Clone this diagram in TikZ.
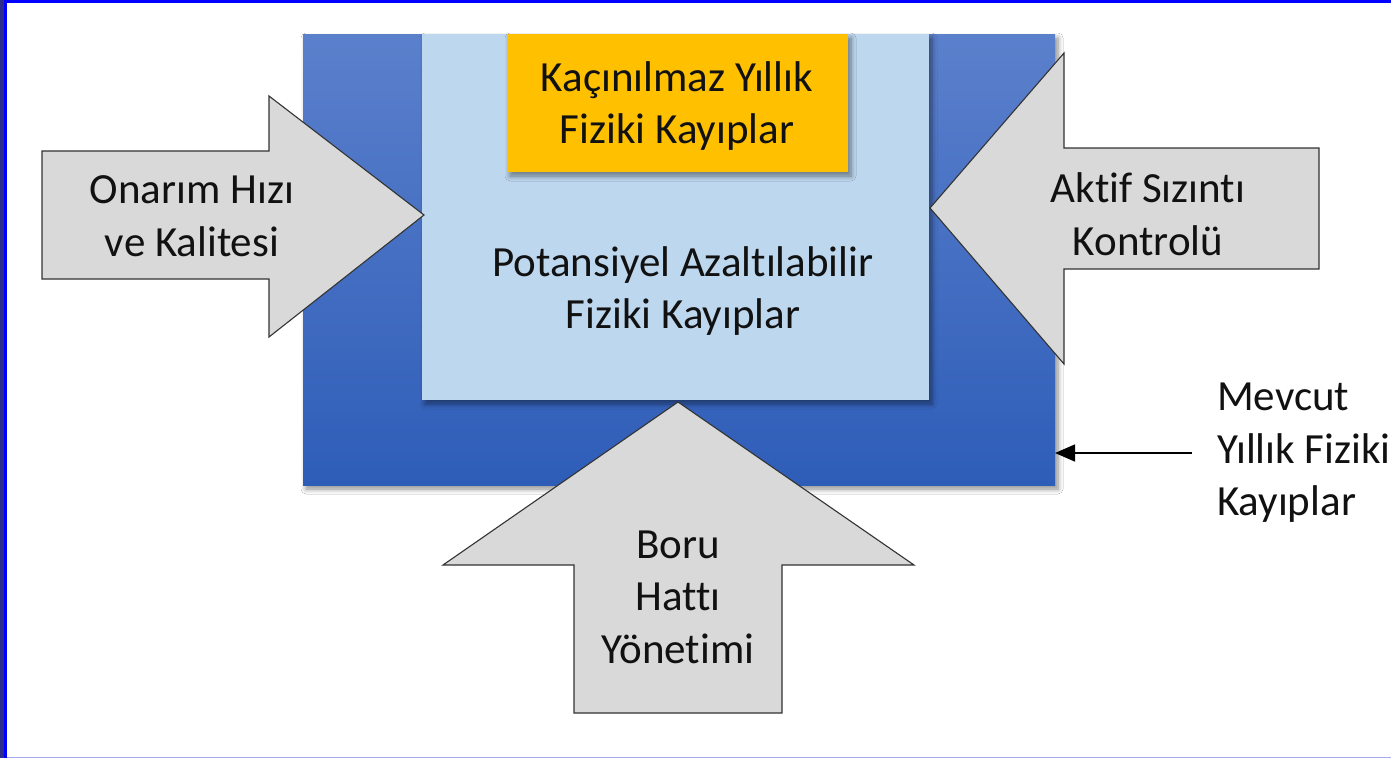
\documentclass[tikz,border=0pt]{standalone}
\usepackage{fontspec}
\setmainfont{Carlito}[Ligatures=NoCommon]
\usetikzlibrary{shadows.blur,arrows.meta}
\definecolor{outerTop}{HTML}{5B80CC}
\definecolor{outerBot}{HTML}{2E5DB8}
\definecolor{innerBlue}{HTML}{BDD7EE}
\definecolor{orangeBox}{HTML}{FFC000}
\definecolor{arrowGray}{HTML}{D9D9D9}
\definecolor{edgeGray}{HTML}{333333}
\definecolor{frameDark}{HTML}{2B2B8C}
\definecolor{frameBlue}{HTML}{0000FF}
\definecolor{frameLight}{HTML}{A8A8F0}
\definecolor{txt}{HTML}{111111}
\tikzset{
  softshadow/.style={blur shadow={shadow xshift=3pt, shadow yshift=-4pt, shadow blur steps=6, shadow blur radius=5pt, shadow opacity=45}},
  bigarrow/.style={fill=arrowGray, draw=edgeGray, line width=1.1pt, line join=miter},
  lbl/.style={text=txt, font=\fontsize{43}{52.5}\selectfont, align=center, inner sep=0pt},
}
\begin{document}
\begin{tikzpicture}[x=1pt,y=-1pt]
\useasboundingbox (0,0) rectangle (1391,758);
\fill[white] (0,0) rectangle (1391,758);
% frame
\fill[frameDark] (0,0) rectangle (4,758);
\fill[frameBlue] (4,0) rectangle (7,758);
\fill[frameBlue] (4,0) rectangle (1391,2.5);
\fill[frameLight] (7,756.5) rectangle (1391,758);
% outer blue block
\path[softshadow, top color=outerTop, bottom color=outerBot] (303,34) rectangle (1055,485);
\coordinate (outerNE) at (1055,453);
% inner light block
\path[softshadow, fill=innerBlue] (422,34) rectangle (929,400);
% orange block
\path[softshadow, fill=orangeBox] (507,34) rectangle (848,172);
\node[lbl] (orangeT) at (677,106) {Kaçınılmaz Yıllık\\Fiziki Kayıplar};
\node[lbl] (innerT) at (683,291) {Potansiyel Azaltılabilir\\Fiziki Kayıplar};
% left arrow
\draw[bigarrow] (42,151) -- (269,151) -- (269,96) -- (424,215) -- (269,337) -- (269,279) -- (42,279) -- cycle;
\node[lbl] (leftT) at (192,216) {Onarım Hızı\\ve Kalitesi};
% right arrow
\draw[bigarrow] (1319,148) -- (1064,148) -- (1064,53) -- (930,208) -- (1064,364) -- (1064,269) -- (1319,269) -- cycle;
\node[lbl] (rightT) at (1148,214) {Aktif Sızıntı\\Kontrolü};
% bottom arrow
\draw[bigarrow] (574,713) -- (574,565) -- (443,565) -- (678,402) -- (914,565) -- (782,565) -- (782,713) -- cycle;
\node[lbl] (bottomT) at (678,597) {Boru\\Hattı\\Yönetimi};
% side label
\node[lbl, align=left, anchor=west] (sideT) at (1217,453) {Mevcut\\Yıllık Fiziki\\Kayıplar};
\coordinate (ptrS) at (1192,453);
\draw[line width=1.4pt, draw=black, -{Triangle[length=20pt,width=17pt]}] (ptrS) -- (outerNE);
\end{tikzpicture}
\end{document}
